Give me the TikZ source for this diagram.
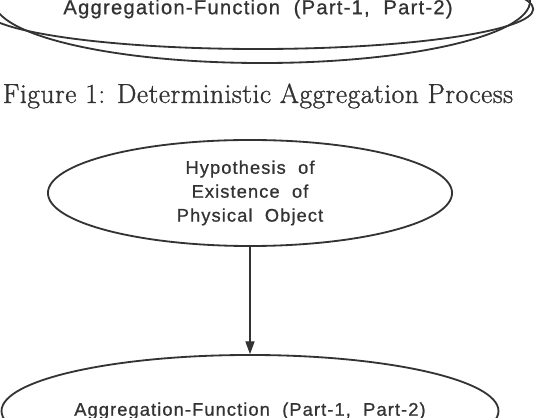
\documentclass[tikz,border=0pt]{standalone}
\usepackage{fontspec}
\newfontfamily\diagfont[LetterSpace=6, RawFeature={embolden=0.8}]{Liberation Sans}
\newfontfamily\capfont[LetterSpace=2, RawFeature={embolden=1.2}]{Latin Modern Roman}
\usetikzlibrary{shapes.geometric,arrows.meta}
\definecolor{ink}{gray}{0.2}

\begin{document}
\begin{tikzpicture}[x=0.025cm,y=-0.025cm]
  \tikzset{bubble/.style = {ellipse, draw=ink, line width=1.3pt, inner sep=0pt, text=ink},
           label text/.style = {font=\diagfont\fontsize{13}{17}\selectfont},
           caption text/.style = {text=ink, inner sep=0pt, font=\capfont\fontsize{19.5}{21}\selectfont}}
  \useasboundingbox (0,0) rectangle (540,418);

  % first figure, cut at the top
  \node[bubble, minimum width=13.4cm, minimum height=3.1cm] (aggouter) at (262,1) {};
  \node[bubble, font=\diagfont\fontsize{14.4}{16}\selectfont,
        minimum width=11.7cm, minimum height=2cm] (aggtop) at (258,9)
        {Aggregation-Function\ \ (Part-1,\ \ Part-2)};
  \node[caption text] (caption) at (258,96) {Figure 1: Deterministic Aggregation Process};

  % second figure
  \node[bubble, label text, align=center, minimum width=10.1cm, minimum height=2.65cm] (hypo) at (250,193)
        {Hypothesis\ \ of\\ Existence\ \ of\\ Physical\ \ Object};
  \node[bubble, label text, minimum width=11.45cm, minimum height=2.8cm] (aggbottom) at (250,411)
        {Aggregation-Function\ \ (Part-1,\ \ Part-2)};

  \draw[draw=ink, line width=0.8pt, -{Triangle[length=9pt, width=6.5pt]}] (hypo) -- (aggbottom);
\end{tikzpicture}
\end{document}
